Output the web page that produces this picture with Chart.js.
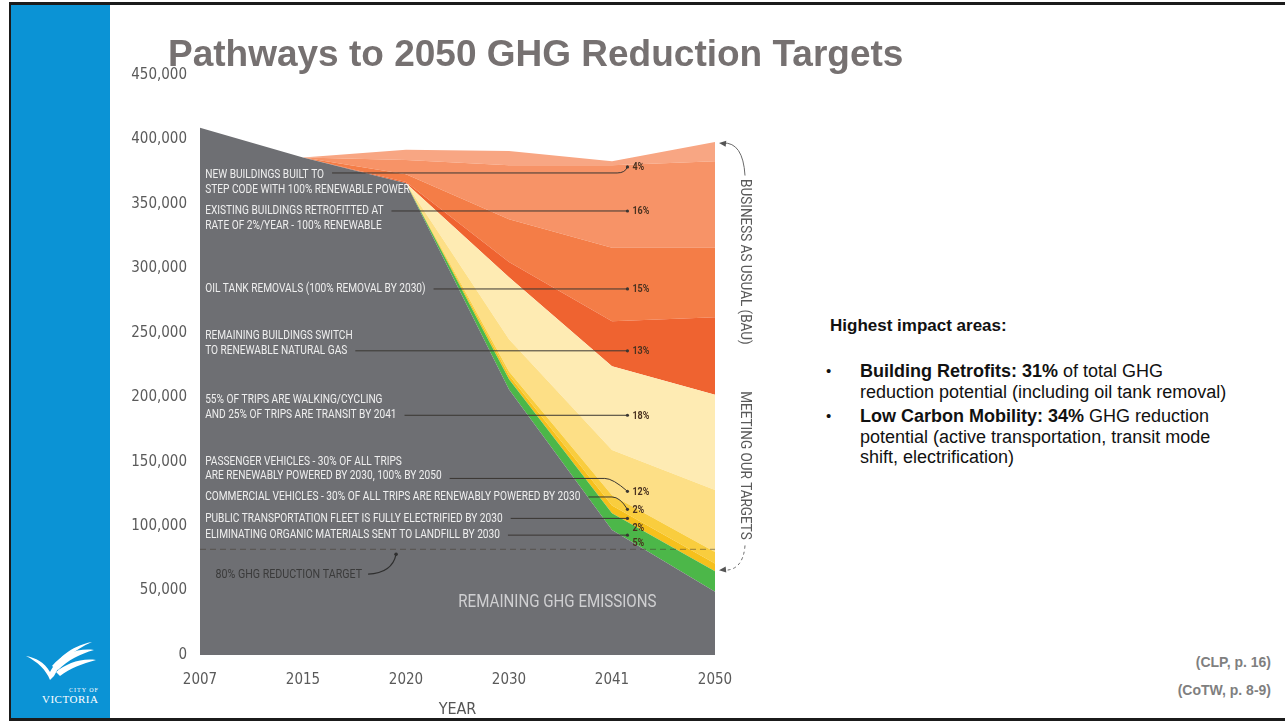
<!DOCTYPE html>
<html>
<head>
<meta charset="utf-8">
<script src="https://cdn.jsdelivr.net/npm/chart.js@4.4.0/dist/chart.umd.min.js"></script>
<style>
  html, body { margin: 0; padding: 0; background: #fff; }
  #slide { position: relative; width: 1285px; height: 721px; overflow: hidden; background: #fff; font-family: "Liberation Sans", Arial, sans-serif; }
  #frame { position: absolute; left: 9px; top: 2px; width: 1290px; height: 713px; border-left: 2px solid #1b1b1b; border-top: 3px solid #1b1b1b; border-bottom: 3px solid #1b1b1b; }
  #stripe { position: absolute; left: 11px; top: 5px; width: 99px; height: 713px; background: #0b93d5; }
  #logo { position: absolute; left: 22px; top: 636px; }
  #title { position: absolute; left: 168px; top: 35px; font-size: 37px; line-height: 37px; font-weight: bold; color: #767171; white-space: nowrap; z-index: 2; }
  #chartBox { position: absolute; left: 110px; top: 40px; width: 680px; height: 681px; }
  #notes { position: absolute; left: 810px; top: 316px; width: 470px; font-size: 18px; color: #111; }
  #notes .head { font-weight: bold; font-size: 17px; line-height: 20px; margin: 0 0 0 20px; }
  #notes ul { list-style: none; margin: 25px 0 0 0; padding: 0; }
  #notes li { position: relative; padding-left: 50px; width: 374px; line-height: 20.5px; margin-bottom: 4px; }
  #notes li::before { content: "\2022"; position: absolute; left: 16px; top: 0; font-size: 15px; }
  #refs { position: absolute; right: 14px; top: 648px; text-align: right; font-size: 14px; font-weight: bold; color: #7f7f7f; line-height: 28px; }
</style>
</head>
<body>
<div id="slide">
  <div id="stripe"></div>
  <div id="frame"></div>
  <svg id="logo" width="80" height="75" viewBox="0 0 80 75">
    <path d="M4 20 C14 22 22 26 28 36 C34 24 48 10 70 6 C52 14 40 24 32 40 L28 44 C24 34 16 26 4 20 Z" fill="#fff"/>
    <path d="M30 30 C40 18 56 12 72 14 C58 18 46 24 36 34 Z" fill="#fff"/>
    <path d="M34 36 C44 28 58 22 74 24 C60 28 48 32 38 40 Z" fill="#fff"/>
    <text x="47" y="56" font-size="6" fill="#fff" font-family="Liberation Serif, serif" letter-spacing="1">CITY OF</text>
    <text x="20" y="67" font-size="11" fill="#fff" font-family="Liberation Serif, serif" letter-spacing="0.5">VICTORIA</text>
  </svg>
  <div id="title">Pathways to 2050 GHG Reduction Targets</div>
  <div id="chartBox"><canvas id="ghgChart"></canvas></div>
  <div id="notes">
    <div class="head">Highest impact areas:</div>
    <ul>
      <li><b>Building Retrofits: 31%</b> of total GHG reduction potential (including oil tank removal)</li>
      <li><b>Low Carbon Mobility: 34%</b> GHG reduction potential (active transportation, transit mode shift, electrification)</li>
    </ul>
  </div>
  <div id="refs">(CLP, p. 16)<br>(CoTW, p. 8-9)</div>
</div>

<script>
const years = ['2007', '2015', '2020', '2030', '2041', '2050'];
const remaining = [409000, 386000, 366000, 206000, 97000, 49000];
const organics = [null, 0, 0, 8000, 13000, 16000];
const publicTransit = [null, 0, 0, 3000, 6000, 6000];
const commercialVehicles = [null, 0, 0, 3000, 8000, 9000];
const passengerVehicles = [null, 0, 0, 25000, 35000, 48000];
const walkingCycling = [null, 0, 0, 48000, 65000, 74000];
const renewableGas = [null, 0, 1000, 12000, 35000, 60000];
const oilTanks = [null, 0, 6000, 33000, 57000, 54000];
const retrofits = [null, 0, 11000, 42000, 64000, 67000];
const newBuildings = [null, 0, 8000, 11000, 3000, 15000];
const targetLevel = 82000;
const yMax = 450000;
const yStep = 50000;

const noteText = [
  ['NEW BUILDINGS BUILT TO', 'STEP CODE WITH 100% RENEWABLE POWER'],
  ['EXISTING BUILDINGS RETROFITTED AT', 'RATE OF 2%/YEAR - 100% RENEWABLE'],
  ['OIL TANK REMOVALS (100% REMOVAL BY 2030)'],
  ['REMAINING BUILDINGS SWITCH', 'TO RENEWABLE NATURAL GAS'],
  ['55% OF TRIPS ARE WALKING/CYCLING', 'AND 25% OF TRIPS ARE TRANSIT BY 2041'],
  ['PASSENGER VEHICLES - 30% OF ALL TRIPS', 'ARE RENEWABLY POWERED BY 2030, 100% BY 2050'],
  ['COMMERCIAL VEHICLES - 30% OF ALL TRIPS ARE RENEWABLY POWERED BY 2030'],
  ['PUBLIC TRANSPORTATION FLEET IS FULLY ELECTRIFIED BY 2030'],
  ['ELIMINATING ORGANIC MATERIALS SENT TO LANDFILL BY 2030']
];
const notePct = ['4%', '16%', '15%', '13%', '18%', '12%', '2%', '2%', '5%'];

// where each note sits, in chart units (y value) and which text line carries the leader
const noteLayout = [
  { y: 372500, lead: 0, ly: 374000, bend: 4.05, tip: 378700 },
  { y: 344500, lead: 0, ly: 344500 },
  { y: 284000, lead: 0, ly: 284000 },
  { y: 247500, lead: 1, ly: 236000 },
  { y: 198000, lead: 1, ly: 186000 },
  { y: 150000, lead: 1, ly: 137000, bend: 3.93, tip: 127000 },
  { y: 122600, lead: 0, ly: 122600, bend: 4.0, tip: 113000 },
  { y: 106000, lead: 0, ly: 106000, pctY: 99000 },
  { y: 93000, lead: 0, ly: 93000, pctY: 87000 }
];

function condText(ctx, str, x, y, size, color, align, sx, weight) {
  ctx.save();
  ctx.font = (weight || 'normal') + ' ' + size + 'px Roboto, "Liberation Sans", sans-serif';
  ctx.fillStyle = color;
  ctx.textBaseline = 'middle';
  ctx.textAlign = 'left';
  const w = ctx.measureText(str).width * sx;
  const left = align === 'center' ? x - w / 2 : align === 'right' ? x - w : x;
  ctx.translate(left, y);
  ctx.scale(sx, 1);
  ctx.fillText(str, 0, 0);
  ctx.restore();
  return w;
}

function arrowHead(ctx, x, y, ang, color) {
  ctx.save();
  ctx.fillStyle = color;
  ctx.translate(x, y);
  ctx.rotate(ang);
  ctx.beginPath();
  ctx.moveTo(0, 0);
  ctx.lineTo(-7, -3);
  ctx.lineTo(-7, 3);
  ctx.closePath();
  ctx.fill();
  ctx.restore();
}

const overlay = {
  id: 'overlay',
  afterDatasetsDraw(chart) {
    const { ctx, chartArea, scales: { x, y } } = chart;
    const x0 = x.getPixelForValue(0);
    const dx = x.getPixelForValue(1) - x0;
    const xp = i => x0 + i * dx;
    const tipX = xp(4.15);

    // 80% target dashed line
    const ty = y.getPixelForValue(targetLevel);
    ctx.save();
    ctx.strokeStyle = 'rgba(70,60,50,0.55)';
    ctx.lineWidth = 1;
    ctx.setLineDash([6, 4]);
    ctx.beginPath();
    ctx.moveTo(chartArea.left, ty);
    ctx.lineTo(chartArea.right, ty);
    ctx.stroke();
    ctx.restore();

    // labels and leader lines
    noteText.forEach((lines, k) => {
      const L = noteLayout[k];
      const top = y.getPixelForValue(L.y);
      let leadEnd = 0;
      lines.forEach((t, j) => {
        const w = condText(ctx, t, xp(0.05), top + j * 14.5, 13, '#efefef', 'left', 0.78);
        if (j === L.lead) leadEnd = xp(0.05) + w;
      });
      const ly = y.getPixelForValue(L.ly);
      ctx.save();
      ctx.strokeStyle = '#3a3632';
      ctx.lineWidth = 1;
      ctx.beginPath();
      ctx.moveTo(leadEnd + 8, ly);
      let endY = ly;
      if (L.bend !== undefined) {
        endY = y.getPixelForValue(L.tip);
        ctx.lineTo(xp(L.bend), ly);
        ctx.quadraticCurveTo(xp(L.bend) + 8, ly, tipX, endY);
      } else {
        ctx.lineTo(tipX, ly);
      }
      ctx.stroke();
      ctx.fillStyle = '#3a3632';
      ctx.beginPath();
      ctx.arc(tipX, endY, 1.6, 0, Math.PI * 2);
      ctx.fill();
      ctx.restore();
      const pY = L.pctY !== undefined ? y.getPixelForValue(L.pctY) : endY;
      condText(ctx, notePct[k], tipX + 5, pY + 1, 10, '#4a3220', 'left', 0.9, 'bold');
    });

    // target note with curved pointer
    const gy = y.getPixelForValue(62000);
    const gw = condText(ctx, '80% GHG REDUCTION TARGET', xp(0.15), gy, 13, '#3b3b3b', 'left', 0.82);
    ctx.save();
    ctx.strokeStyle = '#2f2f2f';
    ctx.lineWidth = 1.2;
    ctx.beginPath();
    ctx.moveTo(xp(0.15) + gw + 6, gy - 1);
    ctx.quadraticCurveTo(xp(0.15) + gw + 30, gy - 2, xp(0.15) + gw + 34, ty + 5);
    ctx.stroke();
    ctx.fillStyle = '#2f2f2f';
    ctx.beginPath();
    ctx.arc(xp(0.15) + gw + 34, ty + 5, 1.8, 0, Math.PI * 2);
    ctx.fill();
    ctx.restore();

    condText(ctx, 'REMAINING GHG EMISSIONS', xp(3.47), y.getPixelForValue(41000), 18, '#cfcfd1', 'center', 0.84);

    // BAU / targets side labels
    const sideX = chartArea.right + 30;
    const vText = (str, cy) => {
      ctx.save();
      ctx.translate(sideX, cy);
      ctx.rotate(Math.PI / 2);
      condText(ctx, str, 0, 0, 15, '#5a5a5a', 'center', 0.9);
      ctx.restore();
    };
    const last = years.length - 1;
    const topBAU = y.getPixelForValue(remaining[last] + organics[last] + publicTransit[last] + commercialVehicles[last] + passengerVehicles[last] + walkingCycling[last] + renewableGas[last] + oilTanks[last] + retrofits[last] + newBuildings[last]);
    vText('BUSINESS AS USUAL (BAU)', y.getPixelForValue(305000));
    vText('MEETING OUR TARGETS', y.getPixelForValue(147000));

    ctx.save();
    ctx.strokeStyle = '#6a6a6a';
    ctx.lineWidth = 1;
    ctx.beginPath();
    ctx.moveTo(sideX, y.getPixelForValue(372000));
    ctx.quadraticCurveTo(sideX - 2, topBAU, chartArea.right + 8, topBAU + 1);
    ctx.stroke();
    arrowHead(ctx, chartArea.right + 4, topBAU + 1, Math.PI + 0.1, '#555');
    const lowY = y.getPixelForValue(remaining[last] + organics[last]);
    ctx.setLineDash([3, 3]);
    ctx.beginPath();
    ctx.moveTo(sideX, y.getPixelForValue(85000));
    ctx.quadraticCurveTo(sideX - 2, lowY, chartArea.right + 8, lowY - 1);
    ctx.stroke();
    ctx.setLineDash([]);
    arrowHead(ctx, chartArea.right + 4, lowY - 1, Math.PI - 0.1, '#555');
    ctx.restore();
  }
};

function layer(label, data, color, fill) {
  return {
    label, data,
    backgroundColor: color,
    borderWidth: 0,
    pointRadius: 0,
    fill,
    tension: 0
  };
}

const ctxGhg = document.getElementById('ghgChart').getContext('2d');
const ghgChart = new Chart(ctxGhg, {
  type: 'line',
  data: {
    labels: years,
    datasets: [
      layer('Remaining GHG emissions', remaining, '#6e6f73', 'origin'),
      layer('Organics to landfill', organics, '#4cb749', '-1'),
      layer('Public transportation fleet', publicTransit, '#f6c01c', '-1'),
      layer('Commercial vehicles', commercialVehicles, '#f9cd3e', '-1'),
      layer('Passenger vehicles', passengerVehicles, '#fddf86', '-1'),
      layer('Walking / cycling / transit', walkingCycling, '#feebb3', '-1'),
      layer('Renewable natural gas', renewableGas, '#ef6330', '-1'),
      layer('Oil tank removals', oilTanks, '#f47d47', '-1'),
      layer('Building retrofits', retrofits, '#f79367', '-1'),
      layer('New buildings', newBuildings, '#f8a683', '-1')
    ]
  },
  options: {
    responsive: true,
    maintainAspectRatio: false,
    animation: false,
    layout: { padding: { left: 0, right: 75, top: 35, bottom: 0 } },
    plugins: {
      legend: { display: false },
      tooltip: { enabled: false },
      filler: { propagate: false }
    },
    scales: {
      x: {
        grid: { display: false, drawTicks: false },
        border: { display: false },
        ticks: {
          padding: 16,
          color: '#5a5a5a',
          font: { family: '"DejaVu Sans Condensed", "Liberation Sans Narrow", sans-serif', size: 15 }
        },
        title: {
          display: true,
          text: 'YEAR',
          color: '#555',
          padding: { top: 4, bottom: 2 },
          font: { family: '"DejaVu Sans Condensed", "Liberation Sans Narrow", sans-serif', size: 16 }
        },
        afterFit: s => { s.height = 66; }
      },
      y: {
        stacked: true,
        min: 0,
        max: yMax,
        grid: { display: false, drawTicks: false },
        border: { display: false },
        ticks: {
          stepSize: yStep,
          padding: 13,
          color: '#5a5a5a',
          font: { family: '"DejaVu Sans Condensed", "Liberation Sans Narrow", sans-serif', size: 15 },
          callback: v => v.toLocaleString('en-US')
        },
        afterFit: s => { s.width = 90; }
      }
    }
  },
  plugins: [overlay]
});
</script>
</body>
</html>
